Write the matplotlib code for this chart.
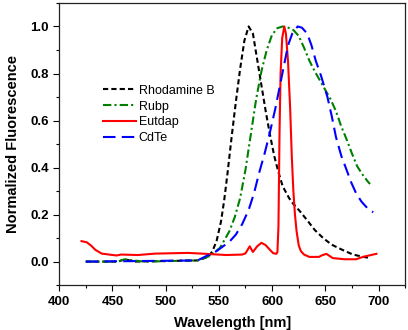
import numpy as np
import matplotlib as mpl
mpl.use('Agg')
import matplotlib.pyplot as plt
from matplotlib.ticker import MultipleLocator

plt.rcParams['font.family'] = ['Liberation Sans', 'DejaVu Sans']

# spectra (wavelength in nm, normalized intensity)
rhod_wl = [425, 455, 462, 470, 530, 540, 544, 548, 552, 555, 558, 562, 566, 570, 574, 578,
           582, 586, 590, 594, 598, 602, 606, 610, 616, 620, 626, 634, 640, 648, 656, 666,
           676, 686, 692]
rhod_y = [0, 0, 0.01, 0, 0.005, 0.02, 0.044, 0.09, 0.17, 0.26, 0.37, 0.53, 0.68, 0.82, 0.94, 1.0,
          0.97, 0.86, 0.75, 0.64, 0.54, 0.45, 0.38, 0.32, 0.27, 0.245, 0.215, 0.17, 0.135, 0.10, 0.072, 0.05,
          0.03, 0.02, 0.015]

rubp_wl = [425, 455, 462, 470, 480, 530, 541, 551, 560, 565, 570, 575, 580, 585, 590, 595,
           600, 605, 610, 615, 620, 625, 630, 635, 640, 645, 650, 655, 660, 665, 670, 675,
           680, 685, 690, 692]
rubp_y = [0, 0, 0.01, 0.005, 0, 0.005, 0.023, 0.058, 0.13, 0.19, 0.27, 0.39, 0.54, 0.69, 0.81, 0.9,
          0.965, 0.993, 1.0, 0.995, 0.985, 0.96, 0.91, 0.855, 0.81, 0.77, 0.73, 0.69, 0.64, 0.575, 0.52, 0.46,
          0.405, 0.37, 0.34, 0.33]

eu_wl = [421, 426, 430, 434, 440, 454, 458, 474, 490, 521, 534, 557, 572, 575, 579, 582,
         586, 590, 594, 598, 601, 604, 605, 606, 607, 608, 609.5, 611.5, 613, 615, 617, 618.5,
         620, 621.5, 623, 625, 627, 630, 635, 644, 647, 651, 657, 668, 679, 684, 688, 698]
eu_y = [0.087, 0.082, 0.068, 0.05, 0.034, 0.026, 0.03, 0.028, 0.034, 0.037, 0.034, 0.028, 0.03, 0.035, 0.065, 0.041,
        0.065, 0.08, 0.07, 0.05, 0.036, 0.033, 0.04, 0.15, 0.55, 0.8, 0.95, 1.0, 0.97, 0.85, 0.65, 0.45,
        0.3, 0.2, 0.13, 0.07, 0.045, 0.03, 0.02, 0.02, 0.027, 0.033, 0.015, 0.01, 0.01, 0.018, 0.023, 0.033]

cdte_wl = [425, 530, 541, 548, 554, 560, 566, 572, 578, 583, 588, 593, 598, 603, 607, 611,
           615, 619, 624, 628, 633, 637, 641, 646, 652, 656, 660, 665, 670, 674, 679, 684,
           690, 695]
cdte_y = [0, 0.005, 0.03, 0.045, 0.065, 0.085, 0.115, 0.16, 0.22, 0.29, 0.38, 0.46, 0.55, 0.65, 0.74, 0.83,
          0.92, 0.97, 1.0, 0.995, 0.97, 0.92, 0.855, 0.79, 0.70, 0.62, 0.53, 0.45, 0.39, 0.34, 0.29, 0.255,
          0.225, 0.21]

fig = plt.figure(figsize=(4.08, 3.3), dpi=100)
ax = fig.add_axes([0.145, 0.136, 0.848, 0.855])

lw = 1.5
ax.plot(rhod_wl, rhod_y, color='black', lw=lw, dashes=(2.5, 1.5), label='Rhodamine B')
ax.plot(rubp_wl, rubp_y, color='green', lw=lw, dashes=(4, 1.5, 1, 1.5), label='Rubp')
ax.plot(eu_wl, eu_y, color='red', lw=lw, label='Eutdap')
ax.plot(cdte_wl, cdte_y, color='blue', lw=lw, dashes=(6, 3), label='CdTe')

ax.set_xlim(400, 725)
ax.set_ylim(-0.1, 1.1)
ax.xaxis.set_major_locator(MultipleLocator(50))
ax.xaxis.set_minor_locator(MultipleLocator(25))
ax.yaxis.set_minor_locator(MultipleLocator(0.1))
ax.set_yticks([0.0, 0.2, 0.4, 0.6, 0.8, 1.0])
ax.tick_params(which='major', direction='out', length=4, width=0.8, labelsize=9.5)
ax.tick_params(which='minor', direction='out', length=2.5, width=0.8)
for lab in ax.get_xticklabels() + ax.get_yticklabels():
    lab.set_fontweight('bold')
for s in ax.spines.values():
    s.set_linewidth(0.9)
    s.set_color('#222222')

ax.set_xlabel('Wavelength [nm]', fontsize=10.5, fontweight='bold', labelpad=6)
ax.set_ylabel('Normalized Fluorescence', fontsize=10.5, fontweight='bold', labelpad=7)

ax.legend(loc='upper left', bbox_to_anchor=(0.127, 0.71), frameon=False, fontsize=9,
          handlelength=2.6, handletextpad=0.25, labelspacing=0.3, borderpad=0, borderaxespad=0)

plt.savefig('out.png', dpi=100)
